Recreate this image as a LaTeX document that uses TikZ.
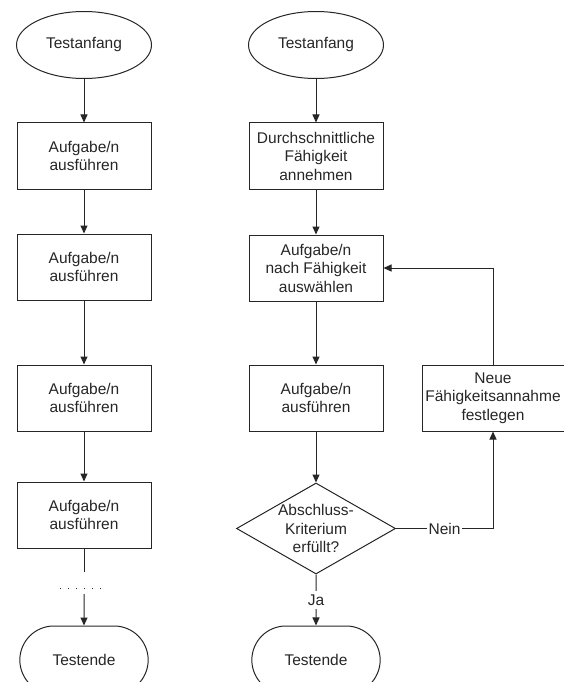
\documentclass[tikz,border=0pt]{standalone}
\usepackage{fontspec}
\setmainfont{Liberation Sans}
\usetikzlibrary{shapes.geometric,shapes.misc,positioning,arrows.meta}

\begin{document}
\begin{tikzpicture}[x=1pt,y=-1pt,->,>={Triangle[length=8pt,width=7pt]},
    line width=1pt,color=black!85,font=\fontsize{15.5}{18.5}\selectfont,
    task/.style={rectangle,draw,minimum width=134pt,minimum height=66pt,
      align=center,inner sep=2pt},
    begin/.style={ellipse,draw,minimum width=135pt,minimum height=67pt},
    finish/.style={rounded rectangle,draw,minimum width=135pt,minimum height=68pt},
    decision/.style={diamond,draw,minimum width=159pt,minimum height=91pt,inner sep=0pt}]

  \useasboundingbox (0,0) rectangle (564,682);

  % klassischer Test
  \node[begin] (startL) at (84,45)       {Testanfang};
  \node[task] (l1) [below=43.5pt of startL] {Aufgabe/n\\ausführen};
  \node[task] (l2) [below=44pt of l1]       {Aufgabe/n\\ausführen};
  \node[task] (l3) [below=64pt of l2]       {Aufgabe/n\\ausführen};
  \node[task] (l4) [below=50pt of l3]       {Aufgabe/n\\ausführen};
  \node[finish] (endL) [below=77pt of l4]   {Testende};

  \coordinate (gapA) at (84,572);
  \coordinate (gapB) at (84,594);
  \coordinate (dotL) at (60,588);
  \coordinate (dotR) at (108,588);

  \draw (startL) -- (l1);
  \draw (l1) -- (l2);
  \draw (l2) -- (l3);
  \draw (l3) -- (l4);
  \draw[-] (l4) -- (gapA);
  \draw[-,dash pattern=on 1pt off 7pt] (dotL) -- (dotR);
  \draw (gapB) -- (endL);

  % adaptiver Test
  \node[begin] (startR) at (316,45)        {Testanfang};
  \node[task] (avg) [below=43.5pt of startR] {Durchschnittliche\\Fähigkeit\\annehmen};
  \node[task] (sel) [below=45pt of avg]      {Aufgabe/n\\nach Fähigkeit\\auswählen};
  \node[task] (run) [below=63pt of sel]      {Aufgabe/n\\ausführen};
  \node[decision] (chk) [below=51pt of run,
    label={[align=center]center:Abschluss-\\Kriterium\\erfüllt?}] {};
  \node[finish] (endR) [below=51pt of chk]   {Testende};
  \node[task,minimum width=142pt] (neu) [right=38pt of run]
    {Neue\\Fähigkeitsannahme\\festlegen};

  \draw (startR) -- (avg);
  \draw (avg) -- (sel);
  \draw (sel) -- (run);
  \draw (run) -- (chk);
  \draw (chk) -- node[fill=white,inner sep=4pt] {Ja} (endR);
  \draw (chk.east) -- node[fill=white,inner sep=2pt] {Nein} (chk.east -| neu) -- (neu);
  \draw (neu) |- (sel);
\end{tikzpicture}
\end{document}
